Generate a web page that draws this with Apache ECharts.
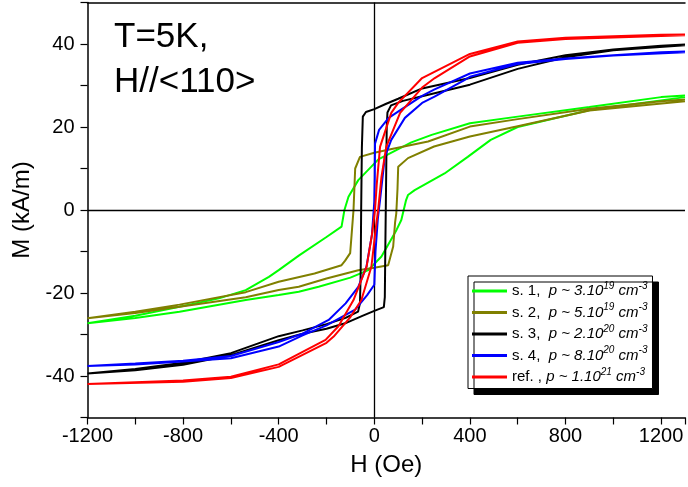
<!DOCTYPE html>
<html>
<head>
<meta charset="utf-8">
<script src="https://cdn.jsdelivr.net/npm/echarts@6/dist/echarts.min.js"></script>
<style>
html,body{margin:0;padding:0;background:#fff;}
#chart{width:688px;height:487px;}
</style>
</head>
<body>
<div id="chart"></div>
<script>
// ---- data (H in Oe, M in kA/m); each loop: descending branch then ascending branch
var seriesNames = ['s. 1', 's. 2', 's. 3', 's. 4', 'ref.'];
var seriesColors = ['#00ff00', '#808000', '#000000', '#0000ff', '#ff0000'];
var densityMantissa = ['3.10', '5.10', '2.10', '8.10', '1.10'];
var densityExponent = ['19', '19', '20', '20', '21'];
var xTicks = { min: -1200, max: 1300, step: 200, labelStep: 400 };
var yTicks = { min: -50, max: 50, step: 10, labelStep: 20 };
var textLines = ['T=5K,', 'H//<110>'];

var s1 = [
  [1300,27.6],[1200,27.2],[900,24.8],[600,22.5],[400,20.9],[240,18.1],[155,16.3],[17,12.2],[-67,7.2],[-108,3.2],[-125,0],[-137,-4],
  [-200,-6.5],[-316,-11.0],[-400,-14.5],[-441,-16.1],[-538,-19.3],[-650,-21.3],[-815,-23.3],[-1000,-25.5],[-1200,-27.3],
  [-1200,-27.7],[-1000,-26.0],[-815,-24.5],[-538,-21.7],[-400,-20.5],[-316,-19.7],[-233,-18.5],[-100,-16.3],[-25,-14.5],
  [30,-11.2],[93,-4.8],[113,-2.4],[133,2.4],[141,3.6],[169,4.8],[294,8.8],[391,12.8],[487,16.9],[600,20.0],[903,24.1],[1300,27.2]
];
var s2 = [
  [1300,26.6],[1200,26.2],[900,24.4],[600,21.9],[400,20.1],[225,16.5],[58,14.5],[0,13.8],[-60,12.8],[-80,10.0],[-87,0],[-95,-6],
  [-101,-10.4],[-122,-12.2],[-137,-13.3],[-250,-15.3],[-400,-17.3],[-538,-19.8],[-815,-22.8],[-1000,-24.5],[-1200,-26.1],
  [-1200,-26.4],[-1000,-24.8],[-815,-23.3],[-538,-21.0],[-400,-19.3],[-316,-18.5],[-200,-16.5],[-67,-14.5],[0,-13.9],[58,-13.3],
  [79,-8.8],[87,-3],[92,-0.8],[97,5],[100,10.4],[141,12.5],[250,15.3],[400,17.7],[600,20.2],[900,24.0],[1300,26.2]
];
var s3 = [
  [1300,39.9],[1200,39.6],[1000,38.7],[800,37.3],[600,35.0],[400,31.8],[200,29.3],[100,26.8],[50,25.6],[0,24.3],[-35,23.6],
  [-48,22.5],[-52,15],[-55,0],[-57,-15],[-60,-22.5],[-68,-24.5],[-120,-26.0],[-200,-27.5],[-300,-29.0],[-400,-30.4],
  [-600,-34.5],[-800,-36.8],[-1000,-38.3],[-1200,-39.4],
  [-1200,-39.6],[-1000,-38.6],[-800,-37.3],[-600,-35.0],[-400,-31.4],[-300,-29.8],[-200,-28.6],[-122,-27.3],[-50,-25.5],
  [0,-24.3],[40,-23.4],[44,-21],[46,-10],[48,0],[50,10],[52,20],[55,23.5],[70,25.2],[120,26.3],[200,27.4],[300,28.8],
  [400,30.2],[600,34.0],[800,36.8],[1000,38.5],[1300,39.7]
];
var s4 = [
  [1300,38.2],[1200,38.0],[1000,37.3],[800,36.5],[600,35.5],[400,32.9],[250,29.0],[200,27.5],[120,24.5],[60,22.2],[20,19.3],
  [3,16],[2,8],[0,2],[-10,-6],[-33,-13.7],[-67,-18.5],[-120,-22.5],[-191,-26.5],[-300,-29.8],[-400,-31.8],[-600,-35.2],
  [-800,-36.3],[-1000,-37.0],[-1200,-37.6],
  [-1200,-37.9],[-1000,-37.2],[-800,-36.5],[-600,-35.7],[-400,-32.9],[-300,-30.2],[-200,-27.8],[-80,-24.0],[-30,-20.5],
  [0,-18.0],[5,-10],[15,-2],[24,2.4],[44,12.8],[71,16.9],[128,22.2],[200,25.8],[252,27.3],[377,31.3],[400,32.1],
  [600,35.2],[800,36.4],[1000,37.2],[1300,38.0]
];
var s5 = [
  [1300,42.3],[1200,42.2],[800,41.5],[600,40.6],[400,37.6],[200,31.8],[100,25.8],[71,23.4],[24,15.2],[10,6],[3,0],[-10,-6],
  [-32,-13.6],[-87,-21.7],[-150,-28.0],[-204,-31.3],[-400,-37.2],[-600,-40.2],[-800,-41.1],[-1200,-41.9],
  [-1200,-42.1],[-800,-41.4],[-600,-40.5],[-400,-37.8],[-200,-32.0],[-170,-30.5],[-100,-25.8],[-54,-21.7],[-12,-13.6],
  [5,-5],[16,0],[30,8],[50,15.2],[108,23.4],[200,29.5],[253,31.8],[400,37.0],[600,40.3],[800,41.2],[1300,42.1]
];
var loops = [s1, s2, s3, s4, s5];

var FONT = 'Liberation Sans, Arial, sans-serif';
var chart = echarts.init(document.getElementById('chart'), null, { renderer: 'canvas' });

var series = loops.map(function (d, i) {
  return {
    name: seriesNames[i],
    type: 'line',
    data: d,
    showSymbol: false,
    symbol: 'none',
    smooth: false,
    lineStyle: { color: seriesColors[i], width: 2 },
    itemStyle: { color: seriesColors[i] },
    z: 3 + i,
    animation: false
  };
});
series.push({
  type: 'line',
  data: [],
  silent: true,
  z: 2,
  markLine: {
    silent: true,
    symbol: 'none',
    animation: false,
    label: { show: false },
    lineStyle: { color: '#000', width: 1.3, type: 'solid' },
    data: [{ xAxis: 0 }, { yAxis: 0 }]
  }
});

var option = {
  backgroundColor: '#ffffff',
  animation: false,
  grid: { left: 87.5, right: 0, top: 2.5, bottom: 69.5, containLabel: false },
  xAxis: [{
    type: 'value',
    min: xTicks.min, max: xTicks.max, interval: xTicks.step,
    name: 'H (Oe)', nameLocation: 'middle', nameGap: 36,
    nameTextStyle: { fontFamily: FONT, fontSize: 24, color: '#000' },
    axisLine: { onZero: false, lineStyle: { color: '#000', width: 1.5 } },
    axisTick: { show: true, inside: false, length: 7, lineStyle: { color: '#000', width: 1.2 } },
    axisLabel: {
      margin: 9, fontFamily: FONT, fontSize: 20, color: '#000',
      formatter: function (v) { return (v % xTicks.labelStep === 0 && v <= 1200) ? String(v) : ''; }
    },
    splitLine: { show: false }
  }, {
    type: 'value', position: 'top',
    min: xTicks.min, max: xTicks.max,
    axisLine: { show: true, onZero: false, lineStyle: { color: '#000', width: 1.5 } },
    axisTick: { show: false }, axisLabel: { show: false }, splitLine: { show: false }
  }],
  yAxis: {
    type: 'value',
    min: yTicks.min, max: yTicks.max, interval: yTicks.step,
    name: 'M (kA/m)', nameLocation: 'middle', nameGap: 50,
    nameTextStyle: { fontFamily: FONT, fontSize: 24, color: '#000' },
    axisLine: { onZero: false, lineStyle: { color: '#000', width: 1.5 } },
    axisTick: { show: true, inside: false, length: 7, lineStyle: { color: '#000', width: 1.2 } },
    axisLabel: {
      margin: 13, fontFamily: FONT, fontSize: 20, color: '#000',
      formatter: function (v) { return (v % yTicks.labelStep === 0 && Math.abs(v) < 50) ? String(v) : ''; }
    },
    splitLine: { show: false }
  },
  legend: {
    orient: 'vertical',
    left: 468, top: 276,
    padding: [5, 5, 4, 4],
    itemGap: 4,
    itemWidth: 35,
    itemHeight: 3,
    icon: 'rect',
    selectedMode: false,
    backgroundColor: '#ffffff',
    borderColor: '#000',
    borderWidth: 1,
    shadowColor: '#000',
    shadowBlur: 0,
    shadowOffsetX: 6,
    shadowOffsetY: 6,
    data: seriesNames,
    formatter: function (name) {
      var i = seriesNames.indexOf(name);
      var lead = i === 4 ? 'ref. , ' : name + ',  ';
      return '{n|' + lead + '}{i|p ~ ' + densityMantissa[i] + '}{s|' + densityExponent[i] + '}{i| cm}{s|-3}';
    },
    textStyle: {
      fontFamily: FONT, fontSize: 15, color: '#000',
      rich: {
        n: { fontFamily: FONT, fontSize: 15, color: '#000', lineHeight: 20 },
        i: { fontFamily: FONT, fontSize: 15, color: '#000', fontStyle: 'italic', lineHeight: 20 },
        s: { fontFamily: FONT, fontSize: 10, color: '#000', fontStyle: 'italic', lineHeight: 11, verticalAlign: 'top' }
      }
    }
  },
  graphic: [
    { type: 'text', left: 114, top: 20, style: { text: textLines[0], fontFamily: FONT, fontSize: 35, fill: '#000' } },
    { type: 'text', left: 114, top: 65, style: { text: textLines[1], fontFamily: FONT, fontSize: 35, fill: '#000' } }
  ],
  series: series
};
chart.setOption(option);
</script>
</body>
</html>
